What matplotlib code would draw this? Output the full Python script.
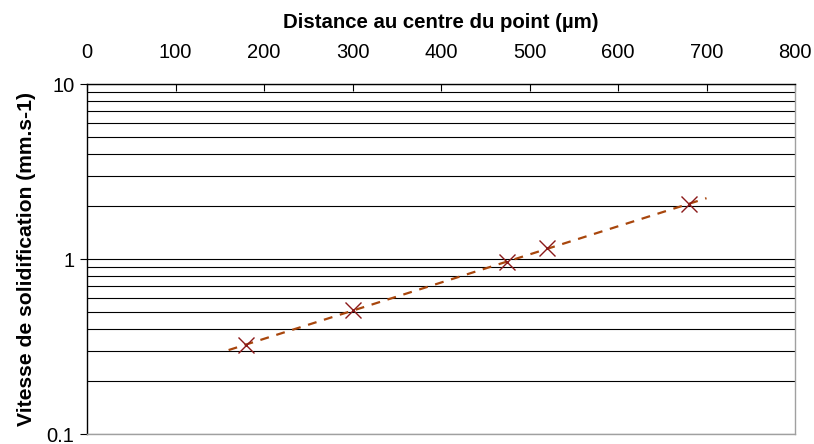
import matplotlib
matplotlib.use("Agg")
import matplotlib.pyplot as plt
import numpy as np
from matplotlib.ticker import LogLocator, FixedLocator, NullFormatter

plt.rcParams['font.family'] = ['Liberation Sans', 'DejaVu Sans']

# data
distance = [180, 300, 475, 520, 680]          # µm
vitesse = [0.323, 0.511, 0.96, 1.155, 2.06]  # mm.s-1
trend_range = [160, 700]

fig = plt.figure(figsize=(8.14, 4.44), dpi=100)
ax = fig.add_axes([0.1069, 0.0225, 0.8698, 0.7883])

# exponential trend line (fit of the points)
b, a = np.polyfit(distance, np.log(vitesse), 1)
xt = np.linspace(trend_range[0], trend_range[1], 50)
ax.plot(xt, np.exp(a + b * xt), color='#A8460C', lw=1.6, ls=(0, (4, 3.5)), zorder=3)

ax.plot(distance, vitesse, ls='none', marker='x', ms=12, mew=1.0, color='#8B1A1A', zorder=4)

ax.set_yscale('log')
ax.set_ylim(0.1, 10)
ax.set_xlim(0, 800)

# horizontal gridlines at every major and minor value
ax.yaxis.set_major_locator(LogLocator(base=10))
ax.yaxis.set_minor_locator(LogLocator(base=10, subs=np.arange(2, 10)))
ax.yaxis.set_minor_formatter(NullFormatter())
ax.grid(True, which='both', axis='y', color='black', lw=0.8)
ax.set_yticks([0.1, 1, 10])
ax.set_yticklabels(['0.1', '1', '10'])
ax.tick_params(axis='y', which='major', direction='out', length=5, width=0.8, labelsize=14.5, pad=4)
ax.tick_params(axis='y', which='minor', length=0)

ax.xaxis.set_major_locator(FixedLocator(np.arange(0, 801, 100)))
ax.xaxis.tick_top()
ax.xaxis.set_label_position('top')
ax.tick_params(axis='x', direction='in', length=5, width=0.8, labelsize=14.5, pad=16)

ax.spines['top'].set_color('black')
ax.spines['left'].set_color('black')
ax.spines['right'].set_color('#A0A0A0')
ax.spines['bottom'].set_color('#A0A0A0')
for s in ax.spines.values():
    s.set_linewidth(1.0)

ax.set_xlabel('Distance au centre du point (µm)', fontsize=14.7, fontweight='bold', labelpad=11)
ax.set_ylabel('Vitesse de solidification (mm.s-1)', fontsize=15.2, fontweight='bold', labelpad=8)

fig.savefig('out.png', dpi=100)
